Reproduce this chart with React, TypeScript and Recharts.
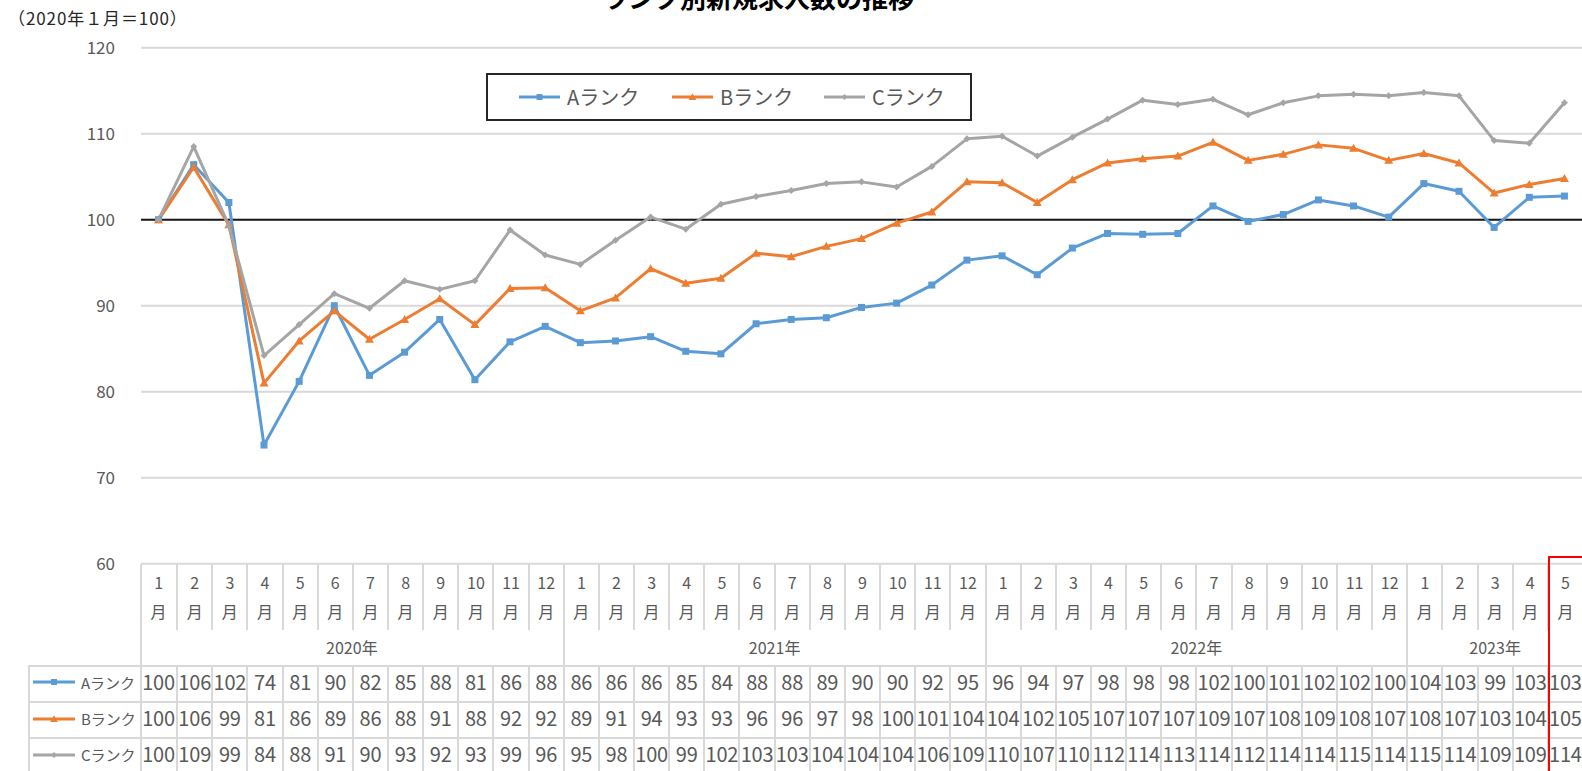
import { LineChart, Line, XAxis, YAxis, CartesianGrid, ReferenceLine } from "recharts";

const FONT = '"Noto Sans CJK JP", "Noto Sans", sans-serif';

// categories
const monthLabels = [
  "1", "2", "3", "4", "5", "6", "7", "8", "9", "10", "11", "12",
  "1", "2", "3", "4", "5", "6", "7", "8", "9", "10", "11", "12",
  "1", "2", "3", "4", "5", "6", "7", "8", "9", "10", "11", "12",
  "1", "2", "3", "4", "5",
];
const yearLabels = ["2020年", "2021年", "2022年", "2023年"];
const yearMonthCounts = [12, 12, 12, 5];

// series (2020年1月=100)
const rankA = [
  100, 106.4, 102.0, 73.8, 81.2, 90.0, 81.9, 84.6, 88.4, 81.4, 85.8, 87.6,
  85.7, 85.9, 86.4, 84.7, 84.4, 87.9, 88.4, 88.6, 89.8, 90.3, 92.4, 95.3,
  95.8, 93.6, 96.7, 98.4, 98.3, 98.4, 101.6, 99.8, 100.6, 102.3, 101.6, 100.3,
  104.2, 103.3, 99.1, 102.6, 102.75,
];
const rankB = [
  100, 106.1, 99.4, 81.0, 85.9, 89.4, 86.1, 88.4, 90.8, 87.8, 92.0, 92.1,
  89.4, 90.9, 94.3, 92.6, 93.2, 96.1, 95.7, 96.9, 97.8, 99.6, 100.9, 104.4,
  104.3, 102.0, 104.65, 106.6, 107.1, 107.4, 109.0, 106.9, 107.6, 108.7, 108.3, 106.9,
  107.7, 106.6, 103.1, 104.1, 104.8,
];
const rankC = [
  100, 108.5, 99.3, 84.2, 87.8, 91.4, 89.7, 92.9, 91.9, 92.9, 98.8, 95.9,
  94.8, 97.6, 100.3, 98.9, 101.8, 102.7, 103.4, 104.2, 104.4, 103.8, 106.2, 109.4,
  109.7, 107.4, 109.6, 111.7, 113.9, 113.4, 114.0, 112.2, 113.6, 114.4, 114.6, 114.4,
  114.8, 114.4, 109.2, 108.9, 113.6,
];
const yTicks = [60, 70, 80, 90, 100, 110, 120];

const series = [
  { key: "A", name: "Aランク", values: rankA, color: "#5b9bd5", marker: "square" },
  { key: "B", name: "Bランク", values: rankB, color: "#ed7d31", marker: "triangle" },
  { key: "C", name: "Cランク", values: rankC, color: "#a5a5a5", marker: "diamond" },
];

const data = monthLabels.map((m, i) => ({
  idx: i,
  month: m,
  A: rankA[i],
  B: rankB[i],
  C: rankC[i],
}));

const W = 1582;
const H = 771;
const PLOT_LEFT = 141;
const PLOT_TOP = 47.7;
const PLOT_BOTTOM = 563.7;
const COL_W = (W - PLOT_LEFT) / monthLabels.length;
const LINE = "#d9d9d9";
const TEXT = "#595959";

function Marker({ type, cx, cy, color, s = 1 }: { type: string; cx: number; cy: number; color: string; s?: number }) {
  if (type === "square") {
    return <rect x={cx - 3.5 * s} y={cy - 3.5 * s} width={7 * s} height={7 * s} fill={color} />;
  }
  if (type === "triangle") {
    return (
      <polygon
        points={`${cx},${cy - 4.5 * s} ${cx + 4.5 * s},${cy + 3.5 * s} ${cx - 4.5 * s},${cy + 3.5 * s}`}
        fill={color}
      />
    );
  }
  return (
    <polygon
      points={`${cx},${cy - 3.5 * s} ${cx + 3.5 * s},${cy} ${cx},${cy + 3.5 * s} ${cx - 3.5 * s},${cy}`}
      fill={color}
    />
  );
}

function LegendKey({ color, marker, len = 42 }: { color: string; marker: string; len?: number }) {
  return (
    <svg width={len} height={12} style={{ display: "block" }}>
      <line x1={0} y1={6} x2={len} y2={6} stroke={color} strokeWidth={3} />
      <Marker type={marker} cx={len / 2} cy={6} color={color} s={0.85} />
    </svg>
  );
}

function DataTable() {
  const rowTop = 664.5;
  const rowH = 36.4;
  let start = 0;
  const years = yearLabels.map((label, i) => {
    const y = { label, start, span: yearMonthCounts[i] };
    start += yearMonthCounts[i];
    return y;
  });
  return (
    <div style={{ position: "absolute", left: 0, top: 0, width: W, height: H, fontFamily: FONT, color: TEXT }}>
      {/* outer left border of category area */}
      <div style={{ position: "absolute", left: PLOT_LEFT - 1, top: PLOT_BOTTOM, width: 2, height: H - PLOT_BOTTOM, background: LINE }} />
      {/* month row */}
      {monthLabels.map((m, i) => (
        <div
          key={`m-${i}`}
          style={{
            position: "absolute",
            left: PLOT_LEFT + i * COL_W,
            top: PLOT_BOTTOM,
            width: COL_W,
            height: 66.3,
            borderLeft: i > 0 ? `2px solid ${LINE}` : "none",
            boxSizing: "border-box",
            fontSize: 16,
            lineHeight: "29.5px",
            paddingTop: 4,
            textAlign: "center",
          }}
        >
          <div>{m}</div>
          <div>月</div>
        </div>
      ))}
      {/* year row */}
      {years.map((y, i) => (
        <div
          key={`y-${i}`}
          style={{
            position: "absolute",
            left: PLOT_LEFT + y.start * COL_W,
            top: 630,
            width: y.span * COL_W,
            height: 34.5,
            borderLeft: i > 0 ? `2px solid ${LINE}` : "none",
            boxSizing: "border-box",
            fontSize: 16,
            lineHeight: "34px",
            textAlign: "center",
          }}
        >
          {y.label}
        </div>
      ))}
      {/* series rows */}
      {series.map((s, r) => (
        <div key={`row-${s.key}`}>
          <div
            style={{
              position: "absolute",
              left: 28,
              top: rowTop + r * rowH,
              width: PLOT_LEFT - 28,
              height: rowH,
              borderLeft: `2px solid ${LINE}`,
              borderTop: `2px solid ${LINE}`,
              boxSizing: "border-box",
              display: "flex",
              alignItems: "center",
              fontSize: 15,
              paddingBottom: 3,
            }}
          >
            <div style={{ marginLeft: 3 }}>
              <LegendKey color={s.color} marker={s.marker} />
            </div>
            <span style={{ marginLeft: 6 }}>{s.name}</span>
          </div>
          {s.values.map((v, i) => (
            <div
              key={`v-${s.key}-${i}`}
              style={{
                position: "absolute",
                left: PLOT_LEFT + i * COL_W,
                top: rowTop + r * rowH,
                width: COL_W,
                height: rowH,
                borderLeft: i > 0 ? `2px solid ${LINE}` : "none",
                borderTop: `2px solid ${LINE}`,
                boxSizing: "border-box",
                fontSize: 20,
                lineHeight: `${rowH - 6}px`,
                textAlign: "center",
                whiteSpace: "nowrap",
                letterSpacing: -0.2,
              }}
            >
              {Math.round(v)}
            </div>
          ))}
        </div>
      ))}
      {/* highlight of latest month */}
      <div
        style={{
          position: "absolute",
          left: PLOT_LEFT + (monthLabels.length - 1) * COL_W + 1,
          top: 556,
          width: 60,
          height: 240,
          border: "2px solid #ff0000",
          boxSizing: "border-box",
        }}
      />
    </div>
  );
}

function ChartLegend() {
  const starts = [519, 672, 824];
  return (
    <div
      style={{
        position: "absolute",
        left: 486,
        top: 72.7,
        width: 486,
        height: 48.5,
        border: "2px solid #262626",
        boxSizing: "border-box",
        fontFamily: FONT,
      }}
    >
      {series.map((s, i) => (
        <div
          key={s.key}
          style={{
            position: "absolute",
            left: starts[i] - 486 - 2,
            top: 0,
            height: 44.5,
            display: "flex",
            alignItems: "center",
            fontSize: 20,
            color: TEXT,
            whiteSpace: "nowrap",
          }}
        >
          <LegendKey color={s.color} marker={s.marker} len={41} />
          <span style={{ marginLeft: 7 }}>{s.name}</span>
        </div>
      ))}
    </div>
  );
}

const makeDot = (type: string, color: string) => (props: any) => {
  const { cx, cy, index } = props;
  if (cx == null || cy == null) return <g key={`d-${type}-${index}`} />;
  return (
    <g key={`d-${type}-${index}`}>
      <Marker type={type} cx={cx} cy={cy} color={color} />
    </g>
  );
};

export default function App() {
  return (
    <div
      style={{
        position: "absolute",
        left: 0,
        top: 0,
        width: W,
        height: H,
        overflow: "hidden",
        background: "#ffffff",
        fontFamily: FONT,
      }}
    >
      <div
        style={{
          position: "absolute",
          left: 758 - 250,
          top: -16,
          width: 500,
          textAlign: "center",
          fontSize: 26,
          lineHeight: "26px",
          fontWeight: 700,
          color: "#000",
        }}
      >
        ランク別新規求人数の推移
      </div>
      <div
        style={{
          position: "absolute",
          left: 8,
          top: 7,
          fontSize: 17,
          lineHeight: "22px",
          letterSpacing: 0.9,
          color: "#262626",
          whiteSpace: "nowrap",
        }}
      >
        （2020年１月＝100）
      </div>

      <div style={{ position: "absolute", left: 0, top: 0 }}>
        <LineChart
          width={W}
          height={H}
          data={data}
          margin={{ top: PLOT_TOP, right: 0, bottom: H - PLOT_BOTTOM, left: PLOT_LEFT - 60 }}
        >
          <CartesianGrid vertical={false} stroke={LINE} strokeWidth={2} />
          <XAxis dataKey="idx" hide padding={{ left: COL_W / 2, right: COL_W / 2 }} />
          <YAxis
            width={60}
            domain={[60, 120]}
            ticks={yTicks}
            axisLine={false}
            tickLine={false}
            tickSize={0}
            tickMargin={26}
            tick={{ fontSize: 17, fill: TEXT, fontFamily: FONT }}
            allowDataOverflow
          />
          <ReferenceLine y={100} stroke="#1a1a1a" strokeWidth={2} />
          {series.map((s) => (
            <Line
              key={s.key}
              type="linear"
              dataKey={s.key}
              name={s.name}
              stroke={s.color}
              strokeWidth={3}
              strokeLinejoin="round"
              dot={makeDot(s.marker, s.color)}
              activeDot={false}
              isAnimationActive={false}
            />
          ))}
        </LineChart>
      </div>

      <ChartLegend />
      <DataTable />
    </div>
  );
}
